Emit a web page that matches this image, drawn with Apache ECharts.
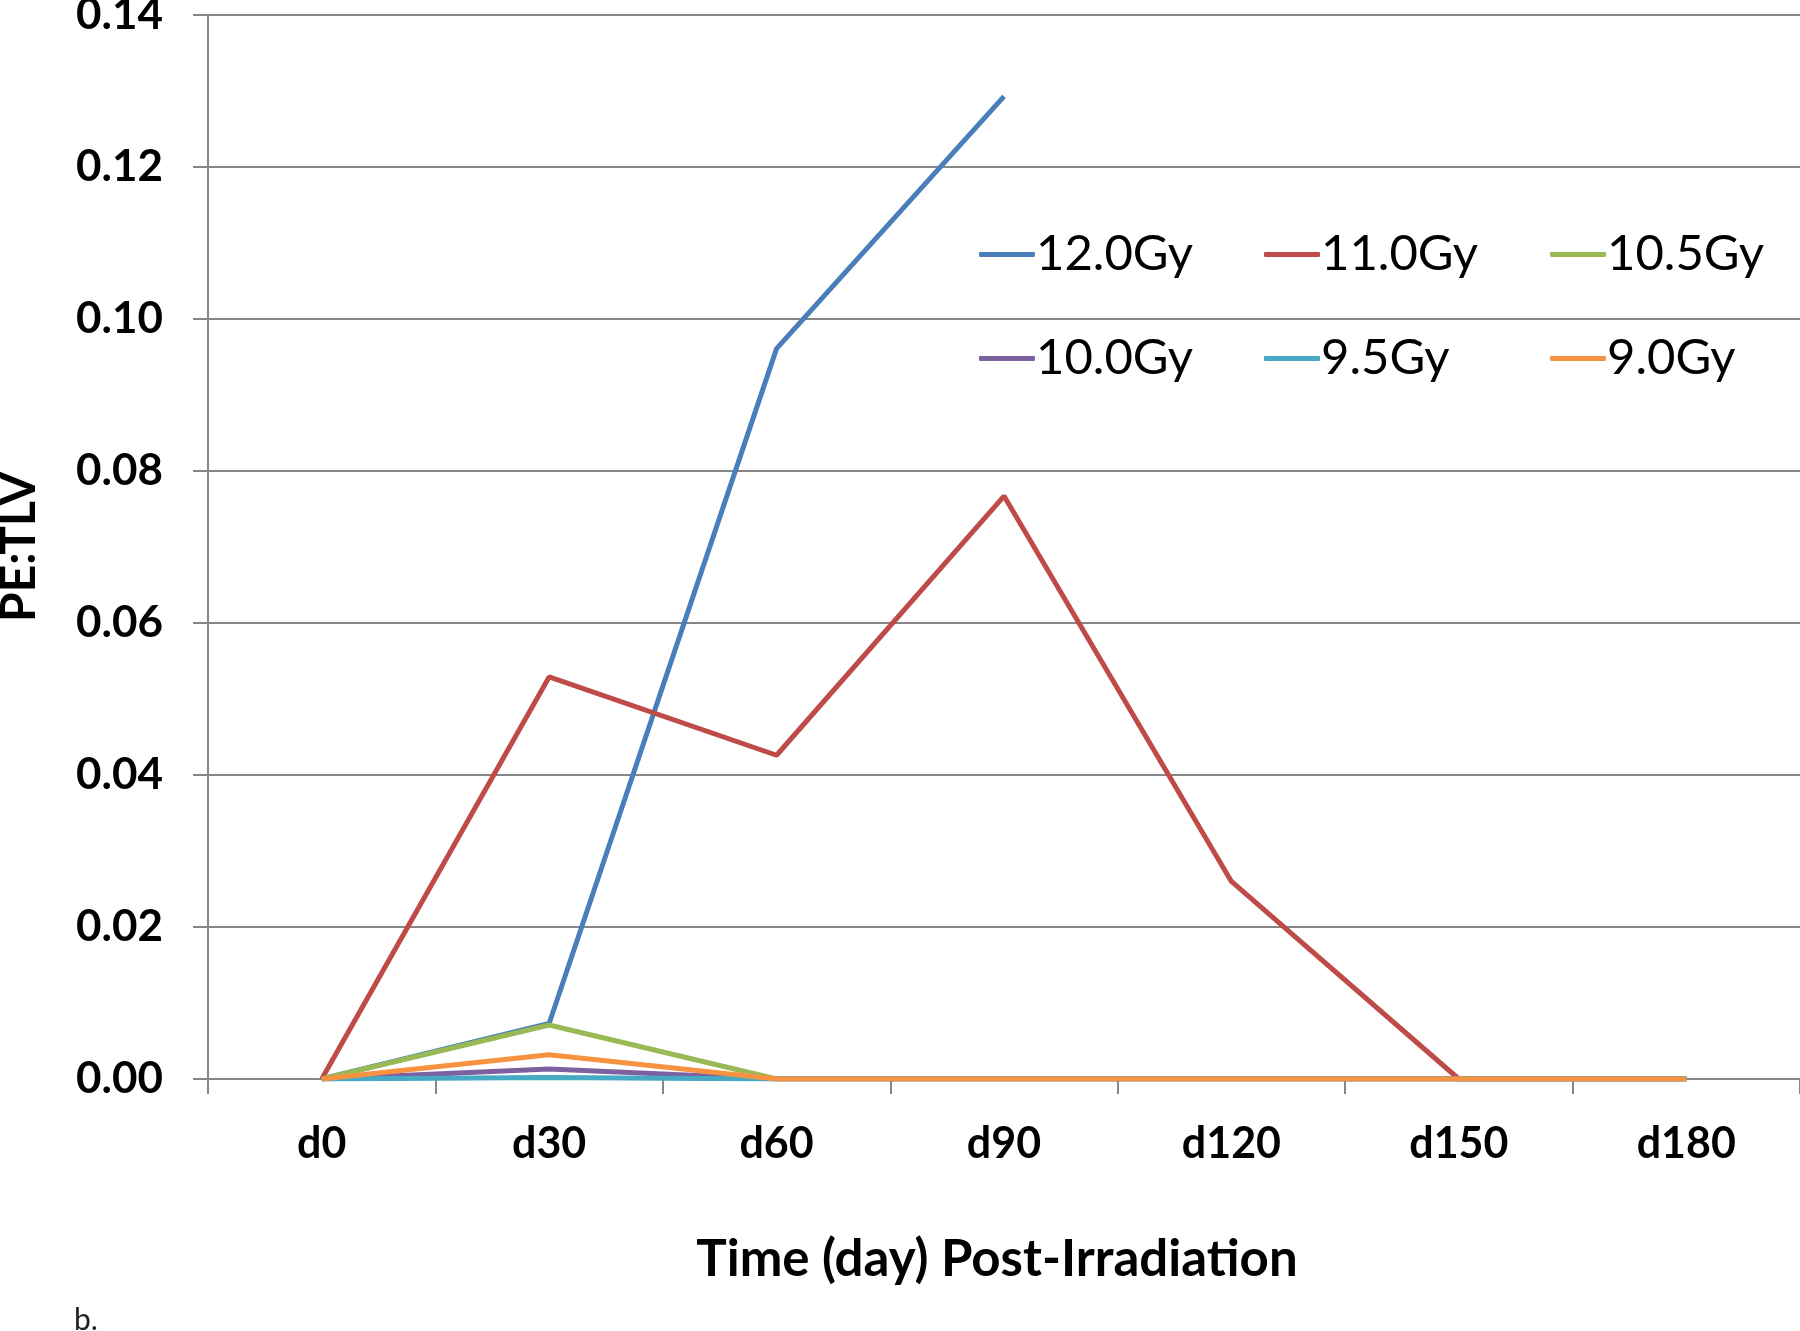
<!DOCTYPE html>
<html>
<head>
<meta charset="utf-8">
<script src="https://cdn.jsdelivr.net/npm/echarts@6/dist/echarts.min.js"></script>
<style>
html,body{margin:0;padding:0;background:#fff;}
#chart{width:1800px;height:1331px;}
</style>
</head>
<body>
<div id="chart"></div>
<script>
var categories = ['d0', 'd30', 'd60', 'd90', 'd120', 'd150', 'd180'];
var seriesNames = ['12.0Gy', '11.0Gy', '10.5Gy', '10.0Gy', '9.5Gy', '9.0Gy'];
var gy120 = [0, 0.0073, 0.0961, 0.1293, null, null, null];
var gy110 = [0, 0.0529, 0.0426, 0.0767, 0.0260, 0, 0];
var gy105 = [0, 0.0071, 0, 0, 0, 0, 0];
var gy100 = [0, 0.0013, 0, 0, 0, 0, 0];
var gy95  = [0, 0.0002, 0, 0, 0, 0, 0];
var gy90  = [0, 0.0032, 0, 0, 0, 0, 0];
var colors = ['#4A7EBB', '#BE4B48', '#98B954', '#7D60A0', '#46AAC5', '#F69240'];
var yTicks = { min: 0, max: 0.14, interval: 0.02 };

var allData = [gy120, gy110, gy105, gy100, gy95, gy90];
var FONT = 'Lato, "Open Sans", sans-serif';
var chart = echarts.init(document.getElementById('chart'), null, {renderer: 'canvas'});

var series = seriesNames.map(function (name, i) {
  return {
    name: name,
    type: 'line',
    data: allData[i],
    symbol: 'none',
    showSymbol: false,
    connectNulls: false,
    lineStyle: { color: colors[i], width: 5 },
    itemStyle: { color: colors[i] },
    animation: false
  };
});

var colLefts = [979, 1264, 1550];
var rowTops = [230, 334];
var legends = seriesNames.map(function (name, i) {
  return {
    data: [name],
    left: colLefts[i % 3],
    top: rowTops[Math.floor(i / 3)],
    orient: 'horizontal',
    icon: 'roundRect',
    itemWidth: 56,
    itemHeight: 5,
    padding: 0,
    textStyle: { fontFamily: FONT, fontSize: 49, color: '#000', padding: [0, 0, 0, -4] }
  };
});

chart.setOption({
  backgroundColor: '#fff',
  animation: false,
  color: colors,
  grid: { left: 208, right: 0, top: 15, bottom: 252, containLabel: false, outerBoundsMode: 'none' },
  legend: legends,
  graphic: [{
    type: 'text',
    left: 74,
    top: 1305,
    style: { text: 'b.', font: '30px ' + FONT, fill: '#222' }
  }],
  xAxis: {
    type: 'category',
    data: categories,
    boundaryGap: true,
    name: 'Time (day) Post-Irradiation',
    nameLocation: 'middle',
    nameGap: 155,
    nameTextStyle: { fontFamily: FONT, fontSize: 51, fontWeight: 'bold', color: '#000', padding: [0, 14, 0, 0] },
    axisLine: { lineStyle: { color: '#868686', width: 2 } },
    axisTick: { show: true, length: 15, inside: false, alignWithLabel: false, lineStyle: { color: '#868686', width: 2 } },
    axisLabel: { fontFamily: FONT, fontSize: 43, fontWeight: 'bold', color: '#000', margin: 44 },
    splitLine: { show: false }
  },
  yAxis: {
    type: 'value',
    min: yTicks.min,
    max: yTicks.max,
    interval: yTicks.interval,
    name: 'PE:TLV',
    nameLocation: 'middle',
    nameGap: 164,
    nameRotate: 90,
    nameTextStyle: { fontFamily: FONT, fontSize: 48, fontWeight: 'bold', color: '#000' },
    axisLine: { show: true, lineStyle: { color: '#868686', width: 2 } },
    axisTick: { show: true, length: 15, lineStyle: { color: '#868686', width: 2 } },
    axisLabel: {
      fontFamily: FONT, fontSize: 44, fontWeight: 'bold', color: '#000', margin: 45,
      formatter: function (v) { return v.toFixed(2); }
    },
    splitLine: { show: true, lineStyle: { color: '#868686', width: 2 } }
  },
  series: series
});
</script>
</body>
</html>
